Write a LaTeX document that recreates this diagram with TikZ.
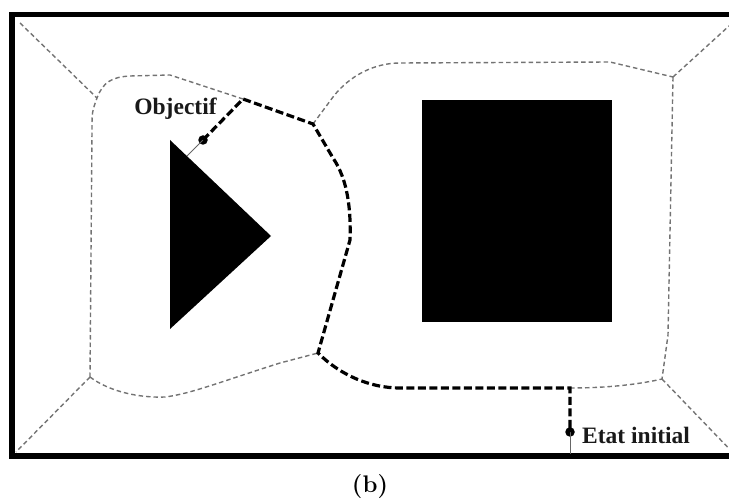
\documentclass[tikz,border=0pt]{standalone}
\usepackage{fontspec}
\newfontfamily\labfont{Liberation Serif}
\begin{document}
\begin{tikzpicture}[x=1bp,y=-1bp,
  frame/.style={line width=5.5bp,line join=miter},
  region/.style={draw=black!55,line width=1.4bp,dash pattern=on 4.5bp off 3bp},
  route/.style={draw=black,line width=3.2bp,dash pattern=on 8bp off 3.5bp},
  lead/.style={draw=black!60,line width=1bp},
  obstacle/.style={fill=black,draw=none},
  dotst/.style={circle,fill=black,inner sep=0pt,minimum size=9.5bp},
  lab/.style={font=\labfont\bfseries\fontsize{23.5bp}{26bp}\selectfont,inner sep=0pt,text=black!90}]
\useasboundingbox (0,0) rectangle (729,501);
\begin{scope}
\clip (0,0) rectangle (729,501);
% frame
\draw[frame] (740,14.5) -- (12,14.5) -- (12,456) -- (740,456);
% obstacles
\fill[obstacle] (170,140) -- (271,236) -- (170,329) -- cycle;
\fill[obstacle] (422,100) rectangle (612,322);
% junction coordinates
\coordinate (tl) at (20,23);
\coordinate (jl) at (97,98);
\coordinate (jbl) at (90,377);
\coordinate (bl) at (16,452);
\coordinate (ja) at (243,99);
\coordinate (jb) at (313,124);
\coordinate (jc) at (318,353);
\coordinate (jd) at (570,388);
\coordinate (jtr) at (673,77);
\coordinate (tr) at (740,16);
\coordinate (jbr) at (662,379);
\coordinate (br) at (740,460);
\coordinate (foot) at (570,454);
\coordinate (edge) at (187,156);
% region boundaries
\draw[region] (tl) -- (jl);
\draw[region] (jbl) -- (92,130) .. controls (92,112) .. (jl) .. controls (103,82) and (112,77) .. (130,76) -- (170,75) -- (ja);
\draw[region] (jbl) .. controls (110,392) and (140,398) .. (165,397) .. controls (190,394) and (220,382) .. (280,363) -- (jc);
\draw[region] (jbl) -- (bl);
\draw[region] (jb) -- (333,97) .. controls (350,75) and (375,63) .. (400,63) -- (610,62) -- (jtr);
\draw[region] (jtr) -- (tr);
\draw[region] (jtr) -- (668,335) -- (jbr);
\draw[region] (jbr) -- (br);
\draw[region] (jd) .. controls (610,388) and (640,384) .. (jbr);
% nodes
\node[dotst] (goal) at (203,140) {};
\node[dotst] (start) at (570,432) {};
\node[lab,anchor=base] (goallab) at (175.5,115) {Objectif};
\node[lab,anchor=base west] (startlab) at (582,443) {Etat initial};
% leads
\draw[lead] (goal.center) -- (edge);
\draw[lead] (start.center) -- (foot);
% route
\draw[route] (goal.center) -- (ja) -- (jb) -- (333,158) .. controls (348,180) and (351,210) .. (350,240) -- (jc) .. controls (340,375) and (370,388) .. (400,388) -- (jd) -- (start.center);
\end{scope}
\node[font=\bfseries\fontsize{24bp}{28bp}\selectfont,anchor=base,inner sep=0pt] (cap) at (370,492) {(b)};
\end{tikzpicture}
\end{document}
